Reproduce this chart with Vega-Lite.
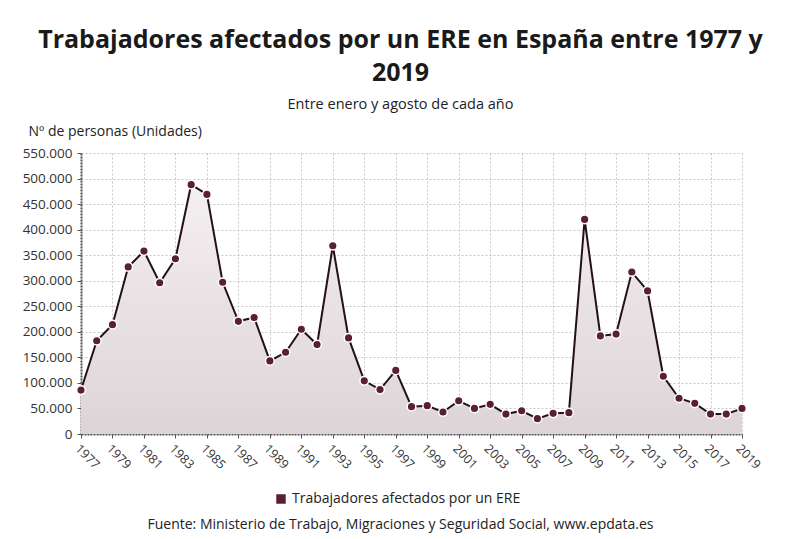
{
  "$schema": "https://vega.github.io/schema/vega-lite/v6.json",
  "width": 661,
  "height": 281,
  "autosize": {"type": "none"},
  "padding": {"left": 81, "top": 153, "right": 58, "bottom": 105},
  "background": "white",
  "title": {
    "text": ["Trabajadores afectados por un ERE en España entre 1977 y", "2019"],
    "subtitle": "Entre enero y agosto de cada año",
    "anchor": "middle",
    "dx": -11,
    "offset": 13,
    "font": "Open Sans",
    "fontSize": 25,
    "fontWeight": "bold",
    "lineHeight": 33,
    "color": "#1a1a1a",
    "subtitleFont": "Open Sans",
    "subtitleFontSize": 14.5,
    "subtitleColor": "#222",
    "subtitlePadding": 12
  },
  "data": {
    "values": [
      {"anio": 1977, "trabajadores": 86000},
      {"anio": 1978, "trabajadores": 182500},
      {"anio": 1979, "trabajadores": 214000},
      {"anio": 1980, "trabajadores": 327000},
      {"anio": 1981, "trabajadores": 358000},
      {"anio": 1982, "trabajadores": 296000},
      {"anio": 1983, "trabajadores": 343000},
      {"anio": 1984, "trabajadores": 488000},
      {"anio": 1985, "trabajadores": 469000},
      {"anio": 1986, "trabajadores": 297000},
      {"anio": 1987, "trabajadores": 220500},
      {"anio": 1988, "trabajadores": 228000},
      {"anio": 1989, "trabajadores": 143000},
      {"anio": 1990, "trabajadores": 160000},
      {"anio": 1991, "trabajadores": 205000},
      {"anio": 1992, "trabajadores": 175000},
      {"anio": 1993, "trabajadores": 368500},
      {"anio": 1994, "trabajadores": 188000},
      {"anio": 1995, "trabajadores": 104000},
      {"anio": 1996, "trabajadores": 87000},
      {"anio": 1997, "trabajadores": 124500},
      {"anio": 1998, "trabajadores": 53500},
      {"anio": 1999, "trabajadores": 55500},
      {"anio": 2000, "trabajadores": 43000},
      {"anio": 2001, "trabajadores": 65000},
      {"anio": 2002, "trabajadores": 50000},
      {"anio": 2003, "trabajadores": 58000},
      {"anio": 2004, "trabajadores": 39000},
      {"anio": 2005, "trabajadores": 45500},
      {"anio": 2006, "trabajadores": 30000},
      {"anio": 2007, "trabajadores": 40500},
      {"anio": 2008, "trabajadores": 41700},
      {"anio": 2009, "trabajadores": 420000},
      {"anio": 2010, "trabajadores": 192000},
      {"anio": 2011, "trabajadores": 195500},
      {"anio": 2012, "trabajadores": 317000},
      {"anio": 2013, "trabajadores": 280000},
      {"anio": 2014, "trabajadores": 113000},
      {"anio": 2015, "trabajadores": 70000},
      {"anio": 2016, "trabajadores": 60000},
      {"anio": 2017, "trabajadores": 39000},
      {"anio": 2018, "trabajadores": 39000},
      {"anio": 2019, "trabajadores": 50000}
    ]
  },
  "encoding": {
    "x": {
      "field": "anio",
      "type": "quantitative",
      "scale": {"domain": [1977, 2019], "nice": false, "zero": false},
      "axis": {
        "values": [1977, 1979, 1981, 1983, 1985, 1987, 1989, 1991, 1993, 1995, 1997, 1999, 2001, 2003, 2005, 2007, 2009, 2011, 2013, 2015, 2017, 2019],
        "format": "d",
        "labelAngle": 45,
        "labelAlign": "left",
        "labelBaseline": "top",
        "labelPadding": 4,
        "labelFontSize": 12.5,
        "title": "Fuente: Ministerio de Trabajo, Migraciones y Seguridad Social, www.epdata.es",
        "titleFontSize": 14,
        "titleFontWeight": "normal",
        "titleY": 90,
        "titleX": 319,
        "titleAnchor": "middle",
        "titleBaseline": "middle",
        "titleColor": "#222"
      }
    },
    "y": {
      "field": "trabajadores",
      "type": "quantitative",
      "scale": {"domain": [0, 550000], "nice": false},
      "axis": {
        "values": [0, 50000, 100000, 150000, 200000, 250000, 300000, 350000, 400000, 450000, 500000, 550000],
        "format": ",d",
        "labelFontSize": 13.5,
        "labelPadding": 5,
        "title": "Nº de personas (Unidades)",
        "titleAngle": 0,
        "titleAlign": "left",
        "titleBaseline": "middle",
        "titleX": -53,
        "titleY": -22,
        "titleFontSize": 14,
        "titleFontWeight": "normal",
        "titleColor": "#222"
      }
    }
  },
  "layer": [
    {
      "mark": {
        "type": "area",
        "color": {
          "gradient": "linear",
          "x1": 0, "y1": 0, "x2": 0, "y2": 1,
          "stops": [
            {"offset": 0, "color": "#f4eff1"},
            {"offset": 1, "color": "#ddd4d8"}
          ]
        }
      }
    },
    {
      "mark": {"type": "line", "color": "#24101a", "strokeWidth": 2}
    },
    {
      "mark": {"type": "point", "filled": true, "size": 75, "stroke": "white", "strokeWidth": 1.5, "opacity": 1},
      "encoding": {
        "color": {
          "datum": "Trabajadores afectados por un ERE",
          "type": "nominal",
          "scale": {"range": ["#5a1f35"]},
          "legend": {
            "title": null,
            "orient": "none",
            "legendX": 193,
            "legendY": 339,
            "symbolType": "square",
            "symbolSize": 90,
            "symbolStrokeWidth": 0,
            "symbolOpacity": 1,
            "labelFontSize": 14,
            "labelLimit": 500,
            "labelColor": "#222",
            "labelFont": "Open Sans"
          }
        }
      }
    }
  ],
  "config": {
    "locale": {
      "number": {"decimal": ",", "thousands": ".", "grouping": [3], "currency": ["", " €"]}
    },
    "font": "Open Sans",
    "view": {"stroke": null},
    "axis": {
      "labelFont": "Open Sans",
      "titleFont": "Open Sans",
      "labelColor": "#333",
      "gridColor": "#c8c8c8",
      "gridDash": [2, 2],
      "gridWidth": 1,
      "domainColor": "#555",
      "domainDash": [2, 1],
      "domainWidth": 2,
      "tickColor": "#555",
      "tickSize": 4
    }
  }
}
